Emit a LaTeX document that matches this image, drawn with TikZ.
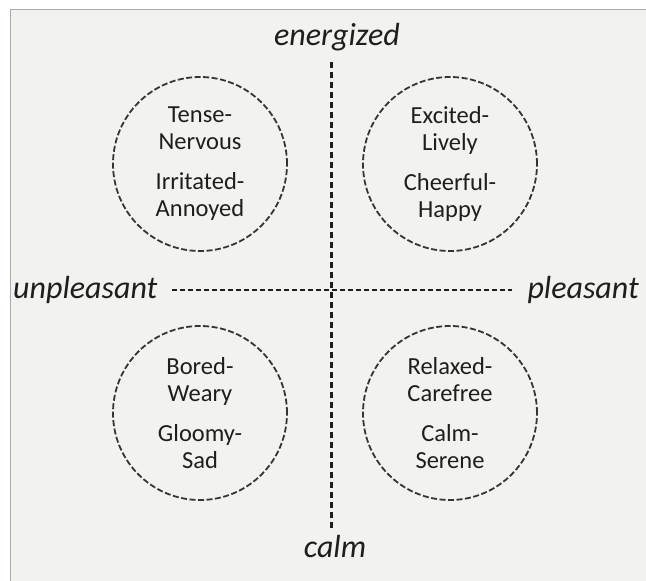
\documentclass[tikz,border=0pt]{standalone}
\usepackage{fontspec}
\setmainfont{Carlito}
\definecolor{bg}{HTML}{F2F2EE}
\definecolor{ink}{HTML}{1E1E1E}
\definecolor{frame}{HTML}{AAAAAA}
\begin{document}
\begin{tikzpicture}[x=1pt,y=-1pt,
  axislabel/.style={text=ink,font=\fontsize{32}{34}\selectfont\itshape,inner sep=0pt},
  mood/.style={circle,draw=ink!90,line width=1.8pt,dash pattern=on 6pt off 2.5pt,
    minimum size=174pt,inner sep=0pt,align=center,text=ink,
    font=\fontsize{24.5}{27}\selectfont},
  vaxis/.style={draw=ink,line width=3pt,dash pattern=on 6pt off 4pt},
  haxis/.style={draw=ink,line width=2pt,dash pattern=on 5pt off 3pt}]
\useasboundingbox (0,0) rectangle (646,581);
\fill[white] (0,0) rectangle (646,581);
\fill[bg] (10,9) rectangle (646,581);
\draw[frame,line width=1pt] (10,581) -- (10,9) -- (646,9);
% axis labels
\node[axislabel] (energized) at (337,37) {energized};
\node[axislabel] (calm) at (335,546) {calm};
\node[axislabel,anchor=west] (unpleasant) at (13,290) {unpleasant};
\node[axislabel,anchor=east] (pleasant) at (639,290) {pleasant};
% axes
\coordinate (top) at (331,62);
\coordinate (bottom) at (331,530);
\coordinate (left) at (172,290);
\coordinate (right) at (512,290);
\draw[vaxis] (top) -- (bottom);
\draw[haxis] (left) -- (right);
% circles
\node[mood] (tl) at (200,164) {Tense-\\Nervous\\[13pt]Irritated-\\Annoyed};
\node[mood] (tr) at (450,164) {Excited-\\Lively\\[13pt]Cheerful-\\Happy};
\node[mood] (bl) at (200,413) {Bored-\\Weary\\[13pt]Gloomy-\\Sad};
\node[mood] (br) at (450,413) {Relaxed-\\Carefree\\[13pt]Calm-\\Serene};
\end{tikzpicture}
\end{document}
